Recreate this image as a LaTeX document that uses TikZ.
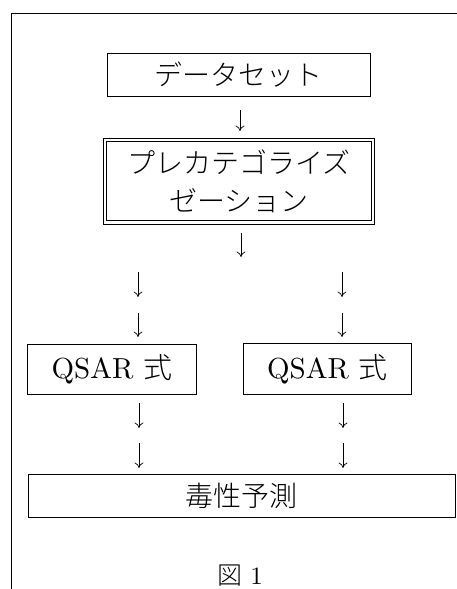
\documentclass[tikz,border=0pt]{standalone}
\usepackage{fontspec}
\setmainfont{lmroman10-regular}[Extension=.otf]
\newfontfamily\jp{Noto Sans CJK JP}[UprightFont={* Light}]
\usetikzlibrary{arrows.meta}
\begin{document}
\begin{tikzpicture}[x=1pt,y=-1pt,
  box/.style={draw,line width=0.8pt,inner sep=0pt,anchor=north west},
  arr/.style={line width=0.7pt,-{Computer Modern Rightarrow[length=5.5pt,width=9pt]}},
  big/.style={font=\fontsize{28}{38}\selectfont}]
\useasboundingbox (0,0) rectangle (457,589);
% frame
\coordinate (ftl) at (11,13);
\coordinate (ftr) at (460,13);
\coordinate (fbl) at (11,592);
\draw[line width=0.8pt] (ftr) -- (ftl) -- (fbl);
% boxes
\node[box,big,minimum width=263pt,minimum height=43pt] (ds) at (107,53) {\jp データセット};
\node[box,big,minimum width=271pt,minimum height=86pt,align=center] (pc) at (103,137.5) {\jp プレカテゴライズ\\\jp ゼーション};
\draw[line width=0.8pt] ([shift={(3.5,3.5)}]pc.north west) rectangle ([shift={(-3.5,-3.5)}]pc.south east);
\node[box,big,minimum width=169pt,minimum height=50pt] (q1) at (27,344) {\fontsize{29}{35}\selectfont QSAR {\jp 式}};
\node[box,big,minimum width=168pt,minimum height=51pt] (q2) at (243,343) {\fontsize{29}{35}\selectfont QSAR {\jp 式}};
\node[box,big,minimum width=427pt,minimum height=43pt] (tp) at (28,474) {\jp 毒性予測};
\node[font=\fontsize{25}{30}\selectfont,anchor=base,inner sep=0pt] (fig) at (240,584) {{\jp 図} 1};
% arrows
\coordinate (a1s) at (240,110); \coordinate (a1e) at (240,131);
\coordinate (a2s) at (241,233); \coordinate (a2e) at (241,257);
\coordinate (l1s) at (138,272); \coordinate (l1e) at (138,297);
\coordinate (l2s) at (138,313); \coordinate (l2e) at (138,337);
\coordinate (r1s) at (342,272); \coordinate (r1e) at (342,297);
\coordinate (r2s) at (342,313); \coordinate (r2e) at (342,337);
\coordinate (l3s) at (139,403); \coordinate (l3e) at (139,428);
\coordinate (l4s) at (139,443); \coordinate (l4e) at (139,468);
\coordinate (r3s) at (343,403); \coordinate (r3e) at (343,428);
\coordinate (r4s) at (343,443); \coordinate (r4e) at (343,468);
\foreach \a in {a1,a2,l1,l2,r1,r2,l3,l4,r3,r4}
  \draw[arr] (\a s) -- (\a e);
\end{tikzpicture}
\end{document}
